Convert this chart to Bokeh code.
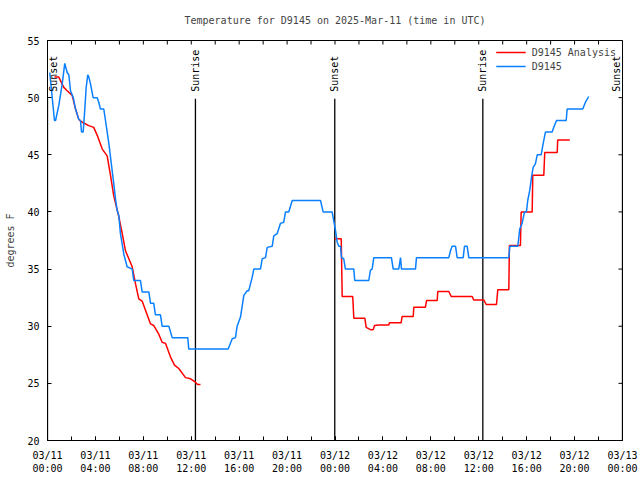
import math
from bokeh.plotting import figure
from bokeh.models import (Range1d, FixedTicker, Legend, LegendItem, Label,
                          ColumnDataSource)
from bokeh.embed import file_html
from bokeh.resources import INLINE

nan = float("nan")

TITLE = "Temperature for D9145 on 2025-Mar-11 (time in UTC)"
Y_LABEL = "degrees F"
FONT = "DejaVu Sans Mono"

# hours since 2025-03-11 00:00 UTC
obs_hours = [0.19, 0.58, 0.67, 0.94, 1.23, 1.44, 1.64, 1.78, 1.92, 2.15, 2.34, 2.61, 2.75, 2.84,
             2.98, 3.09, 3.23, 3.36, 3.45, 3.59, 3.81, 4.15, 4.28, 4.42, 4.70, 4.84, 4.98, 5.12,
             5.26, 5.40, 5.53, 5.68, 5.82, 5.95, 6.09, 6.37, 6.65, 7.07, 7.20, 7.76, 7.90, 8.46,
             8.60, 8.87, 9.01, 9.43, 9.57, 10.13, 10.41, 11.71, 11.79, 15.08, 15.42, 15.69,
             15.83, 16.11, 16.39, 16.67, 16.80, 17.09, 17.22, 17.78, 17.92, 18.20, 18.34, 18.76,
             18.89, 19.17, 19.45, 19.72, 19.87, 20.14, 20.43, 22.79, 23.01, 23.76, 23.90, 24.04,
             24.18, 24.32, 24.46, 24.54, 24.73, 24.87, 25.57, 25.65, 26.82, 26.96, 27.10, 27.24,
             28.71, 28.86, 29.32, 29.47, 29.55, 30.72, 30.80, 33.50, 33.64, 33.78, 34.06, 34.20,
             34.70, 34.81, 35.03, 35.17, 38.51, 38.59, 39.26, 39.42, 39.62, 39.82, 39.98, 40.09,
             40.26, 40.40, 40.54, 40.73, 40.88, 41.21, 41.38, 41.57, 42.13, 42.26, 42.49, 43.30,
             43.38, 44.68, 44.91, 45.18]
obs_temp = [52.2, 48.0, 48.0, 49.3, 51.2, 53.0, 52.2, 52.0, 50.6, 50.0, 49.0, 48.1, 48.0, 47.0,
            47.0, 48.6, 50.9, 52.0, 51.8, 51.2, 50.0, 50.0, 49.6, 49.0, 49.0, 48.0, 47.0, 46.0,
            44.8, 43.6, 42.5, 41.1, 40.1, 39.7, 38.1, 36.3, 35.2, 35.0, 34.0, 34.0, 33.0, 33.0,
            32.0, 32.0, 31.0, 31.0, 30.0, 30.0, 29.0, 29.0, 28.0, 28.0, 28.9, 29.0,
            30.0, 30.8, 32.7, 33.1, 33.1, 34.3, 35.0, 35.0, 35.9, 36.0, 36.9, 37.0,
            37.9, 38.1, 39.0, 39.1, 40.0, 40.0, 41.0, 41.0, 40.0, 40.0, 39.2, 38.4,
            37.35, 37.0, 37.0, 36.0, 35.9, 35.0, 35.0, 34.0, 34.0, 34.9, 35.0, 36.0,
            36.0, 35.0, 35.0, 36.0, 35.0, 35.0, 36.0, 36.0, 36.6, 37.0, 37.0, 36.0,
            36.0, 37.0, 37.0, 36.0, 36.0, 37.0, 37.0, 38.5, 39.0, 40.0, 40.0, 41.0,
            41.9, 43.0, 43.9, 44.2, 45.0, 45.0, 46.0, 47.0, 47.0, 47.4, 48.0, 48.0,
            49.0, 49.0, 49.6, 50.1]

ana_hours = [0.58, 0.94, 1.36, 1.64, 2.06, 2.34, 2.61, 2.90, 3.45, 3.86, 4.15, 4.57, 4.98, 5.26,
             5.53, 5.95, 6.24, 6.51, 6.79, 7.07, 7.35, 7.62, 7.90, 8.18, 8.60, 8.87, 9.29, 9.57,
             9.85, 10.27, 10.60, 10.96, 11.52, 11.94, 12.35, 12.52, 12.77, nan,
             23.96, 24.52, 24.54, 24.60, 25.48, 25.57, 26.49, 26.60, 26.96, 27.19, 27.30, 27.65,
             28.49, 28.55, 29.52, 29.60, 30.53, 30.58, 31.55, 31.64, 32.53, 32.58, 33.50, 33.70,
             35.45, 35.58, 36.42, 36.62, 37.48, 37.59, 38.51, 38.56, 39.48, 39.54, 40.46, 40.51,
             41.43, 41.51, 42.55, 42.59, 43.60]
ana_temp = [51.8, 51.8, 50.9, 50.6, 50.2, 49.0, 48.1, 47.85, 47.55, 47.4, 46.7, 45.5, 44.9, 43.2,
            41.4, 39.6, 38.1, 36.6, 35.9, 35.2, 33.7, 32.4, 32.2, 31.4, 30.2, 30.06, 29.3, 28.6,
            28.5, 27.3, 26.6, 26.3, 25.5, 25.4, 25.1, 24.9, 24.9, nan,
            37.65, 37.65, 36.5, 32.6, 32.6, 30.7, 30.7, 29.9, 29.7, 29.7, 30.06, 30.1,
            30.1, 30.3, 30.3, 30.85, 30.85, 31.66, 31.66, 32.25, 32.25, 33.04, 33.04, 32.6,
            32.6, 32.3, 32.3, 31.9, 31.9, 33.2, 33.2, 37.06, 37.06, 40.0, 40.0, 43.2,
            43.2, 45.2, 45.2, 46.3, 46.3]

sun_hours = [0.0, 12.35, 23.98, 36.34, 48.0]
sun_labels = ["Sunset", "Sunrise", "Sunset", "Sunrise", "Sunset"]

x_tick_hours = [0, 4, 8, 12, 16, 20, 24, 28, 32, 36, 40, 44, 48]
x_tick_labels = ["03/11\n00:00", "03/11\n04:00", "03/11\n08:00", "03/11\n12:00",
                 "03/11\n16:00", "03/11\n20:00", "03/12\n00:00", "03/12\n04:00",
                 "03/12\n08:00", "03/12\n12:00", "03/12\n16:00", "03/12\n20:00",
                 "03/13\n00:00"]
x_minor_hours = [0, 2, 4, 6, 8, 10, 12, 14, 16, 18, 20, 22, 24, 26, 28, 30, 32, 34, 36, 38,
                 40, 42, 44, 46, 48]
y_ticks = [20, 25, 30, 35, 40, 45, 50, 55]

X_MIN, X_MAX = 0, 48
Y_MIN, Y_MAX = 20, 55
SUN_LINE_TOP = 49.9

RED = "#ff0000"
BLUE = "#0a80ff"

p = figure(width=640, height=480, output_backend="svg", toolbar_location=None,
           x_range=Range1d(X_MIN, X_MAX), y_range=Range1d(Y_MIN, Y_MAX),
           min_border_left=47, min_border_right=18, min_border_top=40, min_border_bottom=40,
           title=TITLE, background_fill_color="white", border_fill_color="white")
p.grid.visible = False
p.outline_line_color = "black"
p.outline_line_width = 1

p.title.align = "center"
p.title.vertical_align = "top"
p.title.text_font = FONT
p.title.text_font_size = "10px"
p.title.text_font_style = "normal"
p.title.standoff = 26

xt = FixedTicker(ticks=x_tick_hours, minor_ticks=x_minor_hours)
yt = FixedTicker(ticks=y_ticks)

def style_axis(ax):
    ax.axis_line_color = "black"
    ax.major_tick_in = 4
    ax.major_tick_out = 0
    ax.minor_tick_in = 4
    ax.minor_tick_out = 0
    ax.major_tick_line_color = "black"
    ax.minor_tick_line_color = "black"
    ax.major_label_text_font = FONT
    ax.major_label_text_font_size = "10px"
    ax.major_label_text_color = "black"

xa = p.xaxis[0]
xa.ticker = xt
xa.major_label_overrides = {h: s for h, s in zip(x_tick_hours, x_tick_labels)}
style_axis(xa)
xa.major_label_standoff = 9

ya = p.yaxis[0]
ya.ticker = yt
style_axis(ya)
ya.minor_tick_line_color = None
ya.major_label_standoff = 8
ya.axis_label = Y_LABEL
ya.axis_label_text_font = FONT
ya.axis_label_text_font_size = "10px"
ya.axis_label_text_font_style = "normal"
ya.axis_label_standoff = 8

# mirrored inward ticks on the top and right borders (clipped to the frame)
p.scatter(x=x_minor_hours, y=[Y_MAX] * len(x_minor_hours), marker="dash", size=8,
          angle=math.pi / 2, line_color="black", line_width=1)
p.scatter(x=[X_MAX] * len(y_ticks), y=y_ticks, marker="dash", size=8,
          line_color="black", line_width=1)

# sunrise / sunset markers
sun_src = ColumnDataSource(dict(x=sun_hours, label=sun_labels,
                                y0=[Y_MIN] * len(sun_hours),
                                y1=[SUN_LINE_TOP] * len(sun_hours)))
p.segment(x0="x", y0="y0", x1="x", y1="y1", source=sun_src, line_color="black", line_width=1.3)
for h, lab in zip(sun_hours, sun_labels):
    # labels on the frame edges are nudged inward so they are not cut by the frame clip
    nudge = 6 if h <= X_MIN else (-6 if h >= X_MAX else 0)
    p.add_layout(Label(x=h, y=SUN_LINE_TOP, text=lab, angle=math.pi / 2,
                       text_align="left", text_baseline="middle", y_offset=7, x_offset=nudge,
                       text_font=FONT, text_font_size="10px", text_color="black",
                       level="overlay"))

r_ana = p.line(ana_hours, ana_temp, line_color=RED, line_width=1.5)
r_obs = p.line(obs_hours, obs_temp, line_color=BLUE, line_width=1.5)

legend = Legend(items=[LegendItem(label="D9145 Analysis", renderers=[r_ana]),
                       LegendItem(label="D9145", renderers=[r_obs])],
                location="top_right", border_line_alpha=0, background_fill_alpha=0,
                label_text_font=FONT, label_text_font_size="10px",
                glyph_width=30, glyph_height=12, label_height=12, spacing=2,
                padding=2, margin=4, label_standoff=6)
p.add_layout(legend)

open("out.html", "w").write(file_html(p, INLINE))
